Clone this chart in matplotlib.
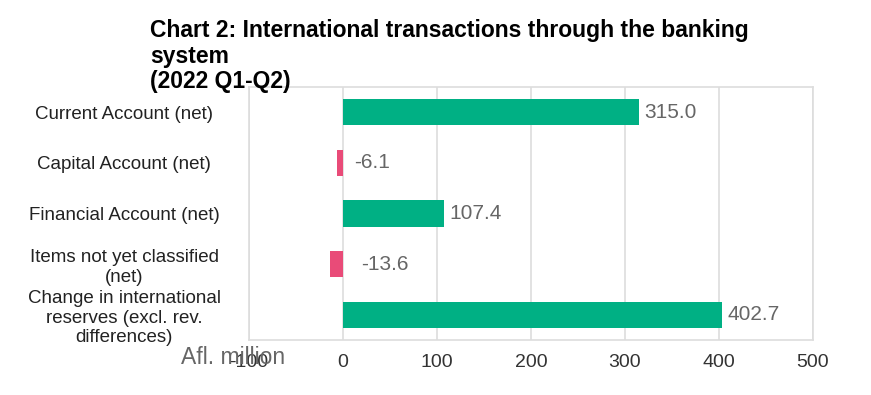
import matplotlib.pyplot as plt
import numpy as np

plt.rcParams['font.family'] = ['Liberation Sans', 'DejaVu Sans']

categories = ['Current Account (net)', 'Capital Account (net)', 'Financial Account (net)',
              'Items not yet classified\n(net)',
              'Change in international\nreserves (excl. rev.\ndifferences)']
values = [315.0, -6.1, 107.4, -13.6, 402.7]
xticks = [-100, 0, 100, 200, 300, 400, 500]

green = '#00b084'
pink = '#e94b78'

fig = plt.figure(figsize=(8.71, 3.95), dpi=100)
ax = fig.add_axes([0.2859, 0.1392, 0.6475, 0.6405])

y = np.arange(len(categories))
colors = [green if v >= 0 else pink for v in values]
ax.barh(y, values, height=0.52, color=colors, zorder=3)

# labels sit just past the bar length (negatives mirrored to the right)
for yi, v in zip(y, values):
    ax.text(abs(v) + 6, yi, f'{v:.1f}', va='center', ha='left',
            fontsize=15, color='#666666', zorder=4)

ax.set_xlim(-100, 500)
ax.set_ylim(len(categories) - 0.5, -0.5)
ax.set_xticks(xticks)
ax.set_xticklabels([str(t) for t in xticks])
ax.set_yticks(y)
ax.set_yticklabels(categories, fontsize=13.5, color='#222222', ha='center',
                   linespacing=1.2)
ax.tick_params(axis='y', length=0, pad=90)
ax.tick_params(axis='x', length=0, pad=10, labelsize=14, labelcolor='#333333')
ax.grid(axis='x', color='#dddddd', linewidth=1.2, zorder=0)
for s in ax.spines.values():
    s.set_color('#dddddd')
    s.set_linewidth(1.2)

fig.text(150 / 871, 1 - 19 / 395,
         'Chart 2: International transactions through the banking\nsystem\n(2022 Q1-Q2)',
         fontsize=16.5, fontweight='bold', va='top', ha='left',
         multialignment='left', linespacing=1.15)
fig.text(181 / 871, 1 - 358 / 395, 'Afl. million', fontsize=16.5, color='#666666',
         va='center', ha='left')

fig.savefig('out.png', dpi=100)
